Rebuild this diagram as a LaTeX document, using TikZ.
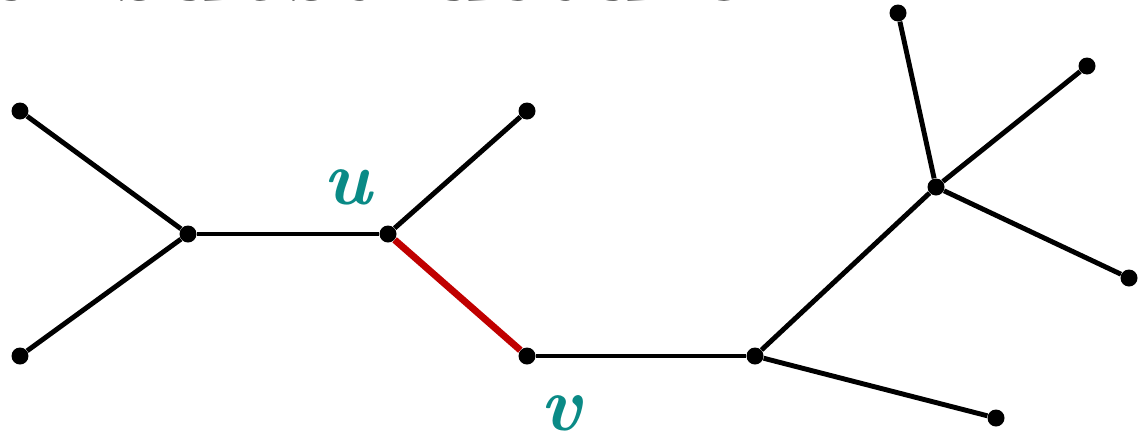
\documentclass[tikz,border=0pt]{standalone}
\usepackage{tikz}
\usetikzlibrary{positioning}
\definecolor{labelteal}{HTML}{0A8A86}
\definecolor{cutred}{HTML}{C00000}
\tikzset{
  vertex/.style={circle, fill=black, inner sep=0pt, minimum size=0.34cm},
  treeedge/.style={line width=2.8pt, draw=black},
  cutedge/.style={line width=3.9pt, draw=cutred},
  vlabel/.style={text=labelteal, anchor=base, inner sep=0pt, font=\fontsize{44}{48}\selectfont\bfseries\itshape}
}
\begin{document}
\begin{tikzpicture}[x=0.02cm, y=-0.02cm]
  \useasboundingbox (0,0) rectangle (1148,437);
  \clip (0,0) rectangle (1148,437);
  % cut-off heading
  \node[anchor=base west, inner sep=0pt, font=\fontsize{58}{62}\selectfont\bfseries] (title) at (-10,0) {al substructure};
  % vertices
  \node[vertex] (a) at (20,111) {};
  \node[vertex] (b) at (20,356) {};
  \node[vertex] (c) at (188,234) {};
  \node[vertex] (u) at (388,234) {};
  \node[vertex] (d) at (527,111) {};
  \node[vertex] (v) at (527,356) {};
  \node[vertex] (w) at (755,356) {};
  \node[vertex] (x) at (996,418) {};
  \node[vertex] (y) at (936,187) {};
  \node[vertex] (z1) at (898,13) {};
  \node[vertex] (z2) at (1087,66) {};
  \node[vertex] (z3) at (1129,278) {};
  % labels
  \node[vlabel] (ulab) at (347,204) {u};
  \node[vlabel] (vlab) at (561,430) {v};
  % edges
  \draw[treeedge] (a) -- (c);
  \draw[treeedge] (b) -- (c);
  \draw[treeedge] (c) -- (u);
  \draw[treeedge] (u) -- (d);
  \draw[treeedge] (v) -- (w);
  \draw[treeedge] (w) -- (x);
  \draw[treeedge] (w) -- (y);
  \draw[treeedge] (y) -- (z1);
  \draw[treeedge] (y) -- (z2);
  \draw[treeedge] (y) -- (z3);
  \draw[cutedge] (u) -- (v);
\end{tikzpicture}
\end{document}
